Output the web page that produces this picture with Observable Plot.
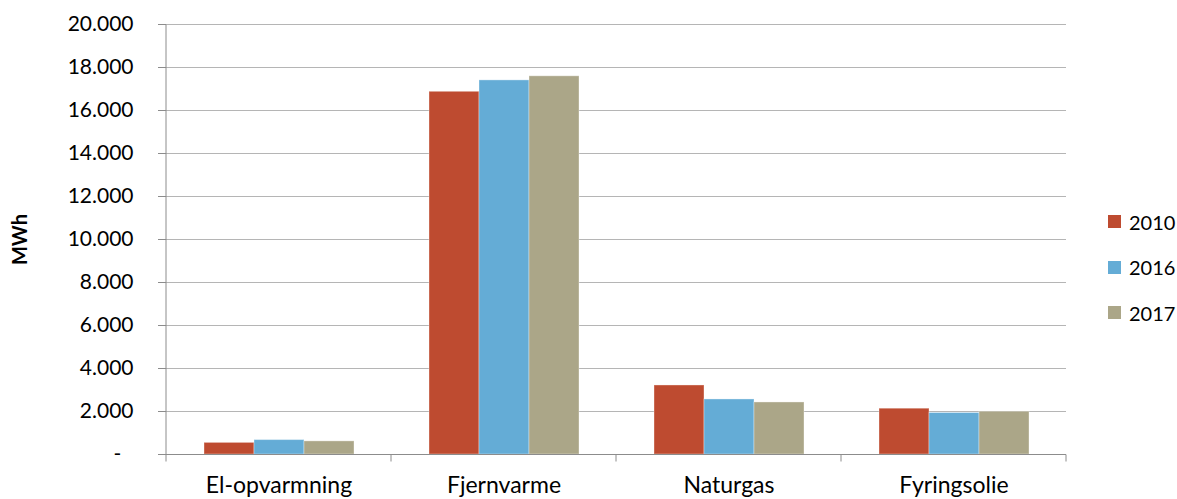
<!DOCTYPE html>
<html><head><meta charset="utf-8">
<script src="https://cdn.jsdelivr.net/npm/d3@7"></script>
<script src="https://cdn.jsdelivr.net/npm/@observablehq/plot@0.6"></script>
<style>
body{margin:0;background:#fff;font-family:Lato,"Open Sans",sans-serif}
#wrap{position:relative;width:1177px;height:499px;overflow:hidden}
#wrap svg{position:absolute;left:0;top:0}
[aria-label="y-axis label"] text{font-weight:bold;font-size:20px}
#legend{position:absolute;left:1108px;top:199px;font-size:20px;color:#000}
#legend .row{display:flex;align-items:center;height:45.5px}
#legend .sw{width:13px;height:13px;margin-right:8px}
</style></head><body><div id="wrap"></div>
<script>
const categories = ["El-opvarmning", "Fjernvarme", "Naturgas", "Fyringsolie"];
const years = ["2010", "2016", "2017"];
const values2010 = [540, 16870, 3210, 2130];
const values2016 = [670, 17400, 2560, 1930];
const values2017 = [610, 17590, 2420, 1990];
const colors = ["#be4b30", "#64acd6", "#aba688"];
const yTicks = [0, 2000, 4000, 6000, 8000, 10000, 12000, 14000, 16000, 18000, 20000];
const yLabel = "MWh";

const series = [values2010, values2016, values2017];
const data = categories.flatMap((c, i) => years.map((y, j) => ({category: c, year: y, value: series[j][i]})));

const fmt = d => d === 0 ? "-\u2007" : d3.format(",")(d).replace(/,/g, ".");

const chart = Plot.plot({
  width: 1177, height: 499,
  marginLeft: 165, marginRight: 110, marginTop: 24, marginBottom: 45,
  style: {fontFamily: "Lato, 'Open Sans', sans-serif", fontSize: "20px", color: "#000", background: "transparent"},
  fx: {domain: categories, padding: 0, label: null},
  x: {domain: years, paddingInner: 0, paddingOuter: 0.75, axis: null},
  y: {domain: [0, 20000]},
  color: {domain: years, range: colors},
  marks: [
    Plot.gridY(yTicks, {stroke: "#b5b5b5", strokeOpacity: 1}),
    Plot.barY(data, {fx: "category", x: "year", y: "value", fill: "year", stroke: "#fff", strokeOpacity: 0.35, strokeWidth: 1}),
    Plot.ruleY(categories, {fx: d => d, y: () => 0, stroke: "#8c8c8c",
      render: (index, scales, values, dimensions, context, next) => {
        const g = next(index, scales, values, dimensions, context);
        const sel = d3.select(g);
        const [x0, x1] = scales.x.range();
        const y0 = scales.y(0), yTop = scales.y(yTicks[yTicks.length - 1]);
        const cat = categories[index[0]];
        const xs = [x0];
        if (cat === categories[categories.length - 1]) xs.push(x1);
        xs.forEach(x => sel.append("line").attr("x1", x).attr("x2", x).attr("y1", y0).attr("y2", y0 + 7).attr("stroke", "#8c8c8c"));
        if (cat === categories[0]) sel.append("line").attr("x1", x0).attr("x2", x0).attr("y1", yTop).attr("y2", y0).attr("stroke", "#8c8c8c");
        return g;
      }}),
    Plot.axisY(yTicks, {tickFormat: fmt, tickSize: 8, tickPadding: 25, stroke: "#8c8c8c", fontSize: 21,
      label: yLabel, labelAnchor: "center", labelArrow: "none", labelOffset: 154}),
    Plot.axisFx({anchor: "bottom", tickSize: 0, tickPadding: 22, label: null, fontSize: 23})
  ]
});

const wrap = document.getElementById("wrap");
wrap.appendChild(chart);
const legend = document.createElement("div");
legend.id = "legend";
years.forEach((y, i) => {
  const row = document.createElement("div");
  row.className = "row";
  const sw = document.createElement("span");
  sw.className = "sw";
  sw.style.background = colors[i];
  const t = document.createElement("span");
  t.textContent = y;
  row.appendChild(sw); row.appendChild(t);
  legend.appendChild(row);
});
wrap.appendChild(legend);
</script></body></html>
